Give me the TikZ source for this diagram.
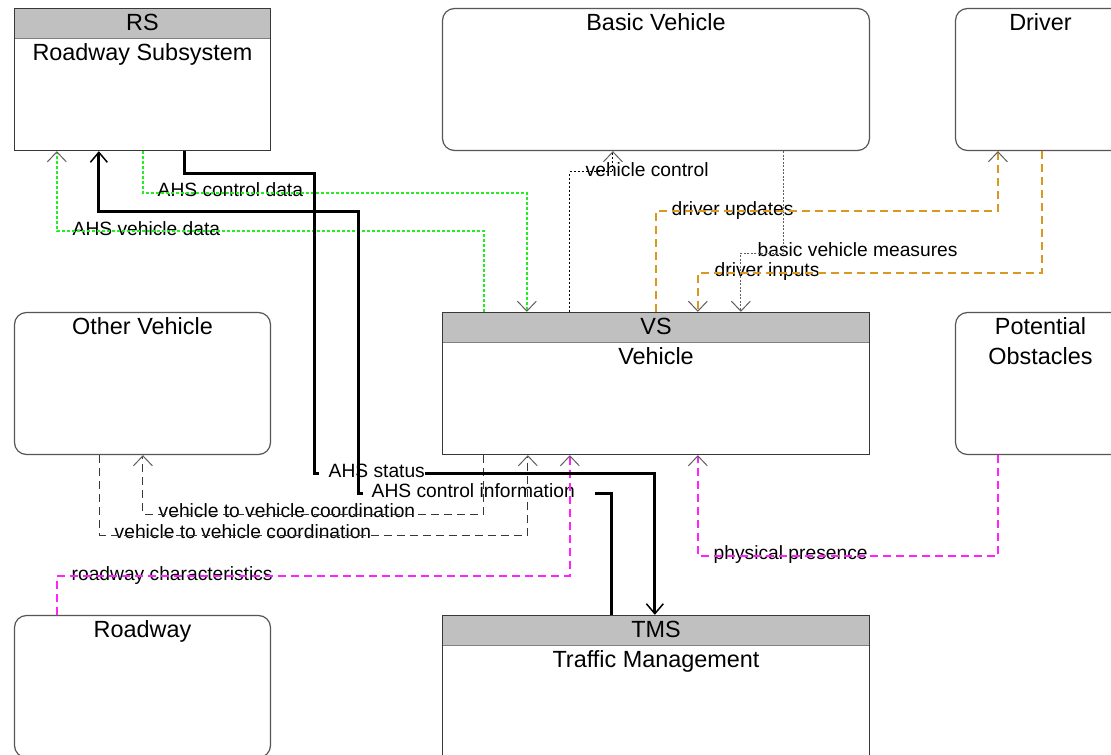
\documentclass[tikz,border=0pt]{standalone}
\usepackage{fontspec}
\setmainfont{Liberation Sans}
\usetikzlibrary{arrows.meta,positioning,calc}
\definecolor{boxline}{HTML}{383838}
\definecolor{headgray}{HTML}{C0C0C0}
\definecolor{ahsgreen}{HTML}{22EE22}
\definecolor{drvorange}{HTML}{D9981F}
\definecolor{physmag}{HTML}{FF22FF}
\definecolor{tipgray}{HTML}{606060}
\newcommand\boxfont{\fontsize{23.5}{28}\selectfont}
\newcommand\flowfont{\fontsize{19.3}{23}\selectfont}
\tikzset{sysbox/.style={draw=boxline,line width=1.3bp,fill=white,minimum height=142bp,inner sep=0pt,path picture={\fill[headgray] (path picture bounding box.north west) rectangle ([yshift=-30bp]path picture bounding box.north east); \draw[gray,line width=1.3bp] ([yshift=-30bp]path picture bounding box.north west) -- ([yshift=-30bp]path picture bounding box.north east);}}, termbox/.style={draw=boxline!85,line width=1.2bp,fill=white,rounded corners=12bp,minimum height=142bp,inner sep=0pt}, boxtitle/.style={font=\boxfont,anchor=base,inner sep=0pt}, rel/.style={font=\flowfont,anchor=west,inner sep=0pt,text height=12bp,text depth=5bp}, flow/.style={line width=1.4bp,-{Straight Barb[length=10bp,width=19bp,line width=1bp,color=tipgray]}}, heavy/.style={line width=3bp}, heavytip/.style={-{Straight Barb[length=10bp,width=17bp,line width=1.5bp]}}, ahs/.style={draw=ahsgreen,dash pattern=on 3bp off 2bp}, fine/.style={draw=black,line width=1.1bp,dash pattern=on 2bp off 2bp}, meas/.style={draw=tipgray,line width=1.1bp,dash pattern=on 2bp off 1.5bp}, drv/.style={draw=drvorange,dash pattern=on 8bp off 5bp}, v2v/.style={draw=boxline,line width=1.1bp,dash pattern=on 8bp off 5bp}, phys/.style={draw=physmag,dash pattern=on 8bp off 5bp}}

\begin{document}
\begin{tikzpicture}[x=1bp,y=-1bp]
\useasboundingbox[fill=white] (-0.5,-0.5) rectangle (1110.5,754.5);
\clip (-0.5,-0.5) rectangle (1110.5,754.5);
% boxes
\node[sysbox,minimum width=256bp] (rs) at (142,79) {};
\node[boxtitle] (rs-a) at ([yshift=-23bp]rs.north) {RS};
\node[boxtitle] (rs-b) at ([yshift=-52.5bp]rs.north) {Roadway Subsystem};
\node[termbox,minimum width=427bp] (bv) at (655.5,79) {};
\node[boxtitle] (bv-a) at ([yshift=-23bp]bv.north) {Basic Vehicle};
\node[termbox,minimum width=170bp] (drv) at (1040,79) {};
\node[boxtitle] (drv-a) at ([yshift=-23bp]drv.north) {Driver};
\node[termbox,minimum width=256bp] (ov) at (142,383) {};
\node[boxtitle] (ov-a) at ([yshift=-23bp]ov.north) {Other Vehicle};
\node[sysbox,minimum width=427bp] (vs) at (655.5,383) {};
\node[boxtitle] (vs-a) at ([yshift=-23bp]vs.north) {VS};
\node[boxtitle] (vs-b) at ([yshift=-52.5bp]vs.north) {Vehicle};
\node[termbox,minimum width=170bp] (po) at (1040,383) {};
\node[boxtitle] (po-a) at ([yshift=-23bp]po.north) {Potential};
\node[boxtitle] (po-b) at ([yshift=-52.5bp]po.north) {Obstacles};
\node[termbox,minimum width=256bp] (rd) at (142,686) {};
\node[boxtitle] (rd-a) at ([yshift=-23bp]rd.north) {Roadway};
\node[sysbox,minimum width=427bp] (tms) at (655.5,686) {};
\node[boxtitle] (tms-a) at ([yshift=-23bp]tms.north) {TMS};
\node[boxtitle] (tms-b) at ([yshift=-52.5bp]tms.north) {Traffic Management};
% flow labels
\node[rel] (ahsctl) at (157,192) {AHS control data};
\node[rel] (ahsveh) at (72,231) {AHS vehicle data};
\node[rel] (vctl) at (585,172) {vehicle control};
\node[rel] (drvupd) at (671,211) {driver updates};
\node[rel] (bvm) at (757,252) {basic vehicle measures};
\node[rel] (drvin) at (714,272) {driver inputs};
\node[rel] (stat) at (328,473) {AHS status};
\node[rel] (ctl) at (371,493) {AHS control information};
\node[rel] (vvc1) at (158,513) {vehicle to vehicle coordination};
\node[rel] (vvc2) at (114,534) {vehicle to vehicle coordination};
\node[rel] (rdc) at (71,576) {roadway characteristics};
\node[rel] (phys) at (713,555) {physical presence};
% flows
\draw[flow,ahs] ([xshift=129bp]rs.south west) -- ++(0,42) -| ([xshift=85bp]vs.north west);
\draw[flow,ahs] ([xshift=42bp]vs.north west) -- ++(0,-81) -| ([xshift=43bp]rs.south west);
\draw[flow,fine] ([xshift=128bp]vs.north west) -- ++(0,-140) -| ([xshift=171bp]bv.south west);
\draw[flow,meas] ([xshift=342bp]bv.south west) -- ++(0,102) -| ([xshift=299bp]vs.north west);
\draw[flow,drv] ([xshift=214bp]vs.north west) -- ++(0,-101) -| ([xshift=43bp]drv.south west);
\draw[flow,drv] ([xshift=87bp]drv.south west) -- ++(0,122) -| ([xshift=256bp]vs.north west);
\draw[flow,v2v] ([xshift=42bp]vs.south west) -- ++(0,59) -| ([xshift=129bp]ov.south west);
\draw[flow,v2v] ([xshift=86bp]ov.south west) -- ++(0,80) -| ([xshift=86bp]vs.south west);
\draw[flow,phys] ([xshift=43bp]rd.north west) -- ++(0,-39) -| ([xshift=128bp]vs.south west);
\draw[flow,phys] ([xshift=43bp]po.south west) -- ++(0,101) -| ([xshift=256bp]vs.south west);
% heavy flows
\draw[heavy] ([xshift=171bp]rs.south west) -- ++(0,22) -| ([xshift=-14bp]stat.west) -- ([xshift=-10bp]stat.west);
\draw[heavy,heavytip] (stat.east) -| ([xshift=213bp]tms.north west);
\draw[heavy] ([xshift=170bp]tms.north west) |- ([xshift=20bp]ctl.east);
\draw[heavy,heavytip] ([xshift=-9bp]ctl.west) -- ++(-4,0) -- ++(0,-282) -| ([xshift=85bp]rs.south west);
\end{tikzpicture}
\end{document}
